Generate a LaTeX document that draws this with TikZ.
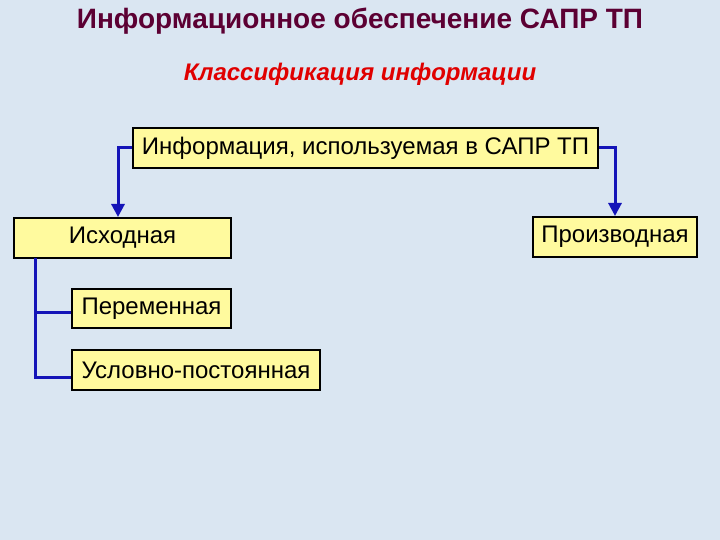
\documentclass[tikz,border=0pt]{standalone}
\usepackage{fontspec}
\setmainfont{Liberation Sans}
\usetikzlibrary{arrows.meta}
\definecolor{bgblue}{HTML}{DAE6F2}
\definecolor{boxyellow}{HTML}{FFFA9E}
\definecolor{linkblue}{HTML}{1414B8}
\definecolor{titlecol}{HTML}{5C0033}
\definecolor{subcol}{HTML}{E00000}
\tikzset{
  infobox/.style={draw=black, line width=2pt, fill=boxyellow, inner sep=0pt,
    font=\fontsize{24}{28}\selectfont},
  link/.style={draw=linkblue, line width=3pt},
  linkarrow/.style={link, -{Triangle[length=13pt,width=13pt]}},
}
\begin{document}
\begin{tikzpicture}[x=1pt,y=-1pt]
\fill[bgblue] (0,0) rectangle (720,540);
\useasboundingbox (0,0) rectangle (720,540);
\node[font=\bfseries\fontsize{28}{32}\selectfont, text=titlecol] (title) at (360,21) {Информационное обеспечение САПР ТП};
\node[font=\bfseries\itshape\fontsize{24}{28}\selectfont, text=subcol] (sub) at (360,74) {Классификация информации};
\node[infobox, minimum width=465, minimum height=40] (main) at (365.5,148) {Информация, используемая в САПР ТП};
\node[infobox, minimum width=217, minimum height=40] (isx) at (122.5,238) {Исходная};
\node[infobox, minimum width=159, minimum height=39] (per) at (151.5,308.5) {Переменная};
\node[infobox, minimum width=248, minimum height=40] (usl) at (196,370) {Условно-постоянная};
\node[infobox, minimum width=164, minimum height=40] (pro) at (615,237) {Производная};
\coordinate (lk) at (118,148);
\coordinate (bx) at (35,258);
\coordinate (perin) at ([yshift=-4pt]per.west);
\coordinate (uslin) at ([yshift=-7pt]usl.west);
\draw[linkarrow] (main.west) -- (lk) -- (lk |- isx.north);
\draw[linkarrow] (main.east) -| (pro.north);
\draw[link] (bx) |- (uslin);
\draw[link] (bx |- perin) -- (perin);
\end{tikzpicture}
\end{document}
